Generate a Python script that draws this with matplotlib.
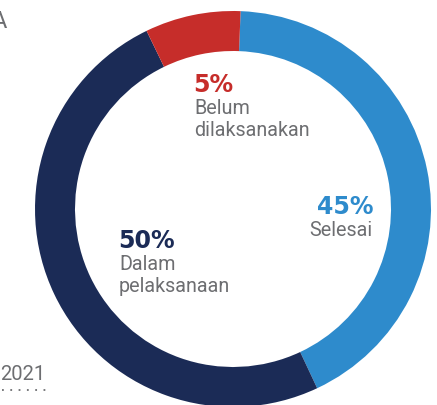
import matplotlib.pyplot as plt

# status of programmes
labels = ["Selesai", "Dalam\npelaksanaan", "Belum\ndilaksanakan"]
pct_text = ["45%", "50%", "5%"]
# arc sizes as drawn in the picture
sizes = [42.4, 49.8, 7.8]
colors = ["#2e8bcc", "#1b2b56", "#c62d2a"]
year = "2021"

grey = "#6d6e71"
W, H = 437, 406

fig = plt.figure(figsize=(W / 100, H / 100), dpi=100)
ax = fig.add_axes([0, 0, 1, 1])

ax.pie(sizes, colors=colors, startangle=87.8, counterclock=False,
       center=(233, H - 210), radius=198,
       wedgeprops=dict(width=40, linewidth=0))
ax.set_xlim(0, W)
ax.set_ylim(0, H)
ax.set_aspect("equal")
ax.axis("off")

# (x, y of percentage, alignment) for each slice label
spots = [(373, 207, "right"), (118, 241, "left"), (193, 85, "left")]
for (x, y, ha), p, lab, c in zip(spots, pct_text, labels, colors):
    ax.text(x, H - y, p, color=c, fontsize=17, fontweight="bold",
            family="DejaVu Sans", ha=ha, va="center")
    ax.text(x + (1 if ha == "left" else 0), H - y - 14, lab, color=grey,
            fontsize=14.2, family="Roboto", ha=ha, va="top",
            linespacing=1.22)

# clipped heading and year note at the left edge
ax.text(7, H - 21, "A", color=grey, fontsize=17, family="Roboto",
        ha="right", va="center")
ax.text(0, H - 375, year, color=grey, fontsize=14.5, family="Roboto",
        ha="left", va="center")
ax.plot([2, 46], [H - 391, H - 391], color=grey, lw=1.3,
        linestyle=(0, (1, 3.6)))

fig.savefig("out.png", dpi=100)
